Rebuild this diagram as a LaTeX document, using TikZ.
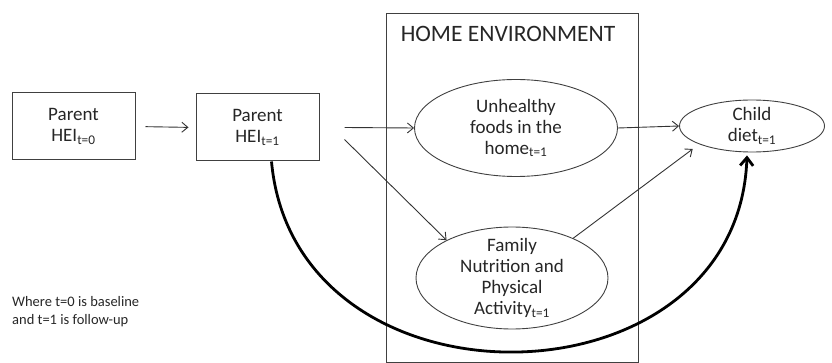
\documentclass[tikz,border=0pt]{standalone}
\usepackage{fontspec}
\setmainfont{Carlito}
\usetikzlibrary{arrows.meta}
\usetikzlibrary{shapes.geometric}
\usetikzlibrary{calc}

\tikzset{
    varbox/.style={draw=black!75,line width=1pt,minimum width=123pt,minimum height=67pt,
        align=center,font=\fontsize{19}{21}\selectfont,text=black!85},
    varoval/.style={draw=black!75,line width=0.9pt,ellipse,inner sep=0pt},
    ovaltext/.style={align=center,font=\fontsize{19}{21}\selectfont,text=black!85},
    thinarrow/.style={draw=black!80,line width=0.9pt,-{Straight Barb[length=6pt,width=10pt]}},
    bigarrow/.style={draw=black,line width=2.8pt,-{Straight Barb[length=8pt,width=13pt]}}
}

\begin{document}
\begin{tikzpicture}[x=1pt,y=-1pt]

    % fix the size of the picture
    \useasboundingbox (0,0) rectangle (832,363);

    % home environment frame
    \draw[black!75,line width=1pt] (386,14) rectangle (638,362);
    \node[font=\fontsize{23.5}{25}\selectfont,text=black!85] (home) at (508,34) {HOME ENVIRONMENT};

    % parent boxes
    \node[varbox] (hei0) at (73.5,126.5) {Parent\\HEI\textsubscript{t=0}};
    \node[varbox] (hei1) at (257.5,127.5) {Parent\\HEI\textsubscript{t=1}};

    % ovals
    \node[varoval,minimum width=203pt,minimum height=97pt] (unh) at (516,128) {};
    \node[ovaltext] (unhtext) at (unh.center) {Unhealthy\\foods in the\\home\textsubscript{t=1}};

    \node[varoval,minimum width=192pt,minimum height=102pt] (fam) at (512,278) {};
    \node[ovaltext] (famtext) at (fam.center) {Family\\Nutrition and\\Physical\\Activity\textsubscript{t=1}};

    \node[varoval,minimum width=145pt,minimum height=52pt] (child) at (752,126) {};
    \node[ovaltext] (childtext) at (child.center) {Child\\diet\textsubscript{t=1}};

    % thin arrows
    \draw[thinarrow,shorten <=10pt,shorten >=7pt] (hei0.east) -- (hei1.west);
    \draw[thinarrow] ($(hei1.east)+(25,0)$) -- (unh.west);
    \draw[thinarrow] ($(hei1.east)+(25,12)$) -- (fam.150);
    \draw[thinarrow] (unh.east) -- (child.west);
    \draw[thinarrow,shorten >=8pt] (fam.33) -- (child.199);

    % thick curved arrow
    \draw[bigarrow] ([xshift=14pt]hei1.south) .. controls (295,420) and (738,412) .. ([xshift=-5pt,yshift=-3pt]child.south);

    % note
    \node[anchor=north west,align=left,font=\fontsize{14.5}{18}\selectfont,text=black!85,inner sep=0pt] (note) at (12,296)
        {Where t=0 is baseline\\and t=1 is follow-up};

\end{tikzpicture}
\end{document}
